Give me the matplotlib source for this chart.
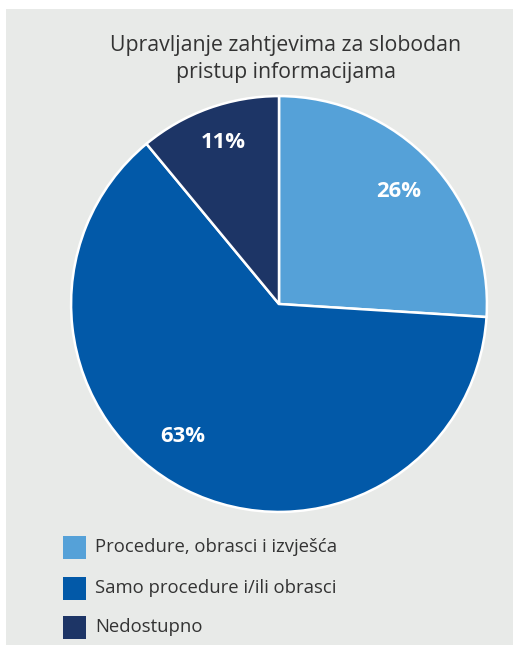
import numpy as np
import matplotlib.pyplot as plt
from matplotlib.patches import Rectangle

# data
categories = ['Procedure, obrasci i izvješća', 'Samo procedure i/ili obrasci', 'Nedostupno']
shares = [26, 63, 11]
colors = ['#55a1d8', '#0259a8', '#1d3566']
title = 'Upravljanje zahtjevima za slobodan\npristup informacijama'

W, H = 514, 645
bg = '#e8eae8'

plt.rcParams['font.family'] = ['Open Sans', 'DejaVu Sans']

fig = plt.figure(figsize=(W / 100, H / 100), dpi=100)
fig.patch.set_facecolor('white')

# grey panel behind everything
fig.patches.append(Rectangle((6 / W, 0), (513 - 6) / W, (H - 9) / H,
                             transform=fig.transFigure, facecolor=bg,
                             edgecolor='none', zorder=-5))

fig.text(286 / W, 1 - 59 / H, title, ha='center', va='center',
         fontsize=15.3, color='#333333', linespacing=1.32)

# pie
cx, cy, r = 279, 304, 210
ax = fig.add_axes([(cx - r) / W, (H - cy - r) / H, 2 * r / W, 2 * r / H])
ax.set_zorder(2)
wedges, texts, autotexts = ax.pie(
    shares, colors=colors, startangle=90, counterclock=False,
    autopct=lambda p: '%d%%' % round(p), pctdistance=0.8,
    wedgeprops={'edgecolor': 'white', 'linewidth': 1.8})
for t in autotexts:
    t.set_color('white')
    t.set_fontweight('bold')
    t.set_fontsize(15.8)
# labels sit a bit off their mid angles in the original
for t, dist, ang in zip(autotexts, [0.79, 0.79, 0.82], [43, 234, 109]):
    a = np.deg2rad(ang)
    t.set_position((dist * np.cos(a), dist * np.sin(a)))
ax.set_xlim(-1.01, 1.01)
ax.set_ylim(-1.01, 1.01)
ax.set_aspect('equal')
ax.axis('off')

# legend
row_y = [547, 588, 627]
sq = 23
for lab, col, y in zip(categories, colors, row_y):
    fig.patches.append(Rectangle((63 / W, 1 - (y + sq / 2) / H), sq / W, sq / H,
                                 transform=fig.transFigure, facecolor=col,
                                 edgecolor='none', zorder=1))
    fig.text(95 / W, 1 - y / H, lab, ha='left', va='center',
             fontsize=13.3, color='#333333')

plt.savefig('out.png', dpi=100, facecolor=fig.get_facecolor())
plt.close()
